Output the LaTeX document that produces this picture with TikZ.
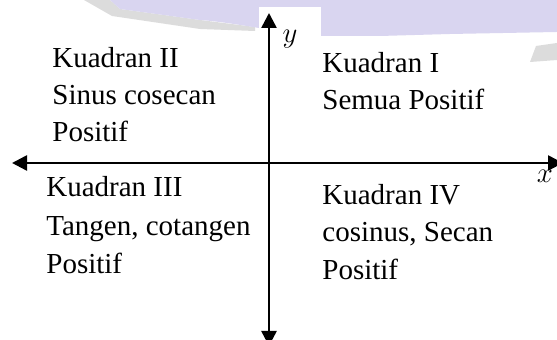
\documentclass[tikz,border=0pt]{standalone}
\usepackage{fontspec}
\setmainfont{Liberation Serif}
\usetikzlibrary{arrows.meta}
\definecolor{wmlav}{HTML}{D9D5F0}
\definecolor{wmgray}{HTML}{DCDCDC}
\tikzset{
  axis/.style={line width=1.25pt, {Triangle[length=7.5pt,width=7.5pt]}-{Triangle[length=7.5pt,width=7.5pt]}},
  lbl/.style={anchor=base west, inner sep=0pt, font=\fontsize{14.5}{17}\selectfont},
  axlbl/.style={anchor=base, inner sep=0pt, font=\fontsize{14.5}{17}\selectfont}
}
\begin{document}
\begin{tikzpicture}[x=0.5pt,y=-0.5pt]
\useasboundingbox (0,0) rectangle (557,340);
\fill[white] (0,0) rectangle (557,340);
% faint background ornament along the top edge
\fill[wmgray] (84,0) -- (110,0) -- (120,9) -- (200,20) -- (255,27) -- (255,31) -- (200,29) -- (112,16) -- cycle;
\fill[wmlav] (110,0) -- (557,0) -- (557,32) -- (450,34) -- (380,36) -- (321,36) -- (259,28)
  .. controls (235,24) and (215,21) .. (200,20) -- (120,9) -- cycle;
\fill[wmgray] (536,46) -- (557,43) -- (557,60) -- (530,62) -- cycle;
\fill[white] (259,7) rectangle (321,36);
% axes
\coordinate (yt) at (269,13);
\coordinate (yb) at (269,346);
\coordinate (xl) at (12,163);
\coordinate (xr) at (563,163);
\draw[axis] (xl) -- (xr);
\draw[axis] (yb) -- (yt);
\node[axlbl] (xlab) at (545,183) {$x$};
\node[axlbl] (ylab) at (290,43) {$y$};
% quadrant II
\node[lbl] (q2a) at (52,68) {Kuadran II};
\node[lbl] (q2b) at (52,105) {Sinus cosecan};
\node[lbl] (q2c) at (52,142) {Positif};
% quadrant I
\node[lbl] (q1a) at (322,73) {Kuadran I};
\node[lbl] (q1b) at (322,110) {Semua Positif};
% quadrant III
\node[lbl] (q3a) at (46,197) {Kuadran III};
\node[lbl] (q3b) at (46,236) {Tangen, cotangen};
\node[lbl] (q3c) at (46,274) {Positif};
% quadrant IV
\node[lbl] (q4a) at (322,205) {Kuadran IV};
\node[lbl] (q4b) at (322,242) {cosinus, Secan};
\node[lbl] (q4c) at (322,280) {Positif};
\end{tikzpicture}
\end{document}
